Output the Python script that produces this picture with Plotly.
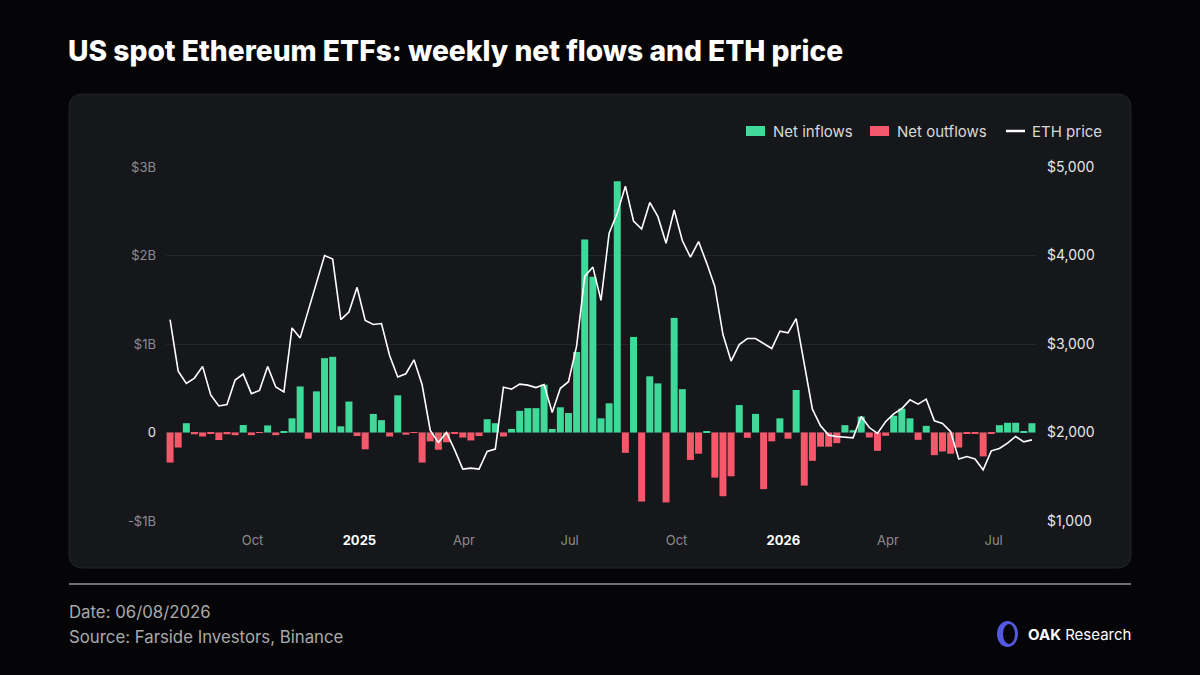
import pandas as pd
import plotly.graph_objects as go

# weekly buckets (week starting Monday), first full week of trading for the ETFs
week_start = pd.date_range("2024-07-22", periods=107, freq="7D")

# weekly net flows, $ billions
net_flows = [
    -0.34, -0.17, 0.105, -0.02, -0.045, -0.01, -0.085, -0.02, -0.03, 0.085,
    -0.03, -0.005, 0.08, -0.03, 0.015, 0.16, 0.52, -0.07, 0.465, 0.84,
    0.855, 0.07, 0.35, -0.04, -0.19, 0.21, 0.14, -0.045, 0.42, -0.025,
    -0.005, -0.34, -0.10, -0.195, -0.11, -0.01, -0.057, -0.09, -0.04, 0.15,
    0.105, -0.045, 0.04, 0.245, 0.275, 0.275, 0.54, 0.04, 0.285, 0.22,
    0.91, 2.18, 1.76, 0.16, 0.33, 2.84, -0.23, 1.08, -0.78, 0.635,
    0.555, -0.79, 1.295, 0.49, -0.31, -0.24, 0.015, -0.51, -0.72, -0.495,
    0.31, -0.06, 0.21, -0.64, -0.10, 0.16, -0.07, 0.48, -0.60, -0.32,
    -0.16, -0.16, -0.12, 0.083, 0.026, 0.18, -0.056, -0.207, -0.038, 0.19,
    0.27, 0.16, -0.083, 0.075, -0.256, -0.215, -0.24, -0.17, -0.01, -0.01,
    -0.27, -0.01, 0.083, 0.11, 0.11, 0.01, 0.105,
]

# ETH weekly close, USD
eth_price = [
    3276, 2694, 2555, 2615, 2747, 2424, 2300, 2315, 2593, 2660,
    2439, 2476, 2747, 2514, 2458, 3182, 3069, 3388, 3707, 4000,
    3959, 3276, 3362, 3640, 3265, 3220, 3231, 2871, 2627, 2664,
    2821, 2539, 2023, 1887, 2000, 1804, 1586, 1597, 1586, 1785,
    1812, 2512, 2490, 2546, 2535, 2508, 2542, 2226, 2499, 2574,
    2976, 3764, 3869, 3493, 4251, 4477, 4784, 4390, 4300, 4600,
    4439, 4139, 4514, 4169, 3981, 4158, 3914, 3651, 3107, 2807,
    2994, 3062, 3062, 3006, 2949, 3144, 3126, 3287, 2788, 2264,
    2075, 1970, 1955, 1944, 1940, 2181, 2056, 1989, 2121, 2211,
    2271, 2369, 2320, 2377, 2132, 2102, 2008, 1700, 1729, 1700,
    1578, 1793, 1819, 1880, 1955, 1894, 1917,
]

x_tick_dates = ["2024-10-01", "2025-01-01", "2025-04-01", "2025-07-01",
                "2025-10-01", "2026-01-01", "2026-04-01", "2026-07-01"]
x_tick_labels = ["Oct", "2025", "Apr", "Jul", "Oct", "2026", "Apr", "Jul"]
flow_ticks = [-1, 0, 1, 2, 3]
flow_tick_labels = ["-$1B", "0", "$1B", "$2B", "$3B"]
price_ticks = [1000, 2000, 3000, 4000, 5000]

GREEN = "#3fd99a"
RED = "#f5576b"
BG = "#050507"
PANEL = "#16171b"
MUTED = "#8b8c92"
FONT = "Inter"

# plot area in pixels (1200x675 canvas)
L, R, T, B = 166, 1036, 167, 521
W, H = R - L, B - T


def px(x):
    return (x - L) / W


def py(y):
    return (B - y) / H


inflows = [v if v > 0 else None for v in net_flows]
outflows = [v if v < 0 else None for v in net_flows]

fig = go.Figure()
fig.add_trace(go.Bar(x=week_start, y=inflows, name="Net inflows",
                     marker=dict(color=GREEN, line=dict(width=0))))
fig.add_trace(go.Bar(x=week_start, y=outflows, name="Net outflows",
                     marker=dict(color=RED, line=dict(width=0))))
fig.add_trace(go.Scatter(x=week_start, y=eth_price, name="ETH price", yaxis="y2",
                         mode="lines", line=dict(color="#ffffff", width=1.6)))

x_text = [f"<span style='color:#ffffff'><b>{t}</b></span>" if t.isdigit() else t
          for t in x_tick_labels]
y_text = [f"<span style='color:#e6e6e6'>{t}</span>" if t == "0" else t
          for t in flow_tick_labels]

x_start = week_start[0] - pd.Timedelta(days=3.5)
x_end = week_start[-1] + pd.Timedelta(days=3.5)

# rounded panel behind the chart
x0, y0, x1, y1, r = 69, 94, 1131, 568, 14
panel_path = (
    f"M {px(x0 + r)},{py(y0)} L {px(x1 - r)},{py(y0)} "
    f"Q {px(x1)},{py(y0)} {px(x1)},{py(y0 + r)} "
    f"L {px(x1)},{py(y1 - r)} Q {px(x1)},{py(y1)} {px(x1 - r)},{py(y1)} "
    f"L {px(x0 + r)},{py(y1)} Q {px(x0)},{py(y1)} {px(x0)},{py(y1 - r)} "
    f"L {px(x0)},{py(y0 + r)} Q {px(x0)},{py(y0)} {px(x0 + r)},{py(y0)} Z"
)

shapes = [
    dict(type="path", xref="paper", yref="paper", path=panel_path,
         fillcolor=PANEL, line=dict(color="#222329", width=1), layer="below"),
    # legend swatches
    dict(type="rect", xref="paper", yref="paper", x0=px(746), x1=px(765),
         y0=py(136), y1=py(126), fillcolor=GREEN, line=dict(width=0)),
    dict(type="rect", xref="paper", yref="paper", x0=px(870), x1=px(889),
         y0=py(136), y1=py(126), fillcolor=RED, line=dict(width=0)),
    dict(type="line", xref="paper", yref="paper", x0=px(1006), x1=px(1025),
         y0=py(131), y1=py(131), line=dict(color="#ffffff", width=2.5)),
    # footer rule
    dict(type="line", xref="paper", yref="paper", x0=px(69), x1=px(1131),
         y0=py(584), y1=py(584), line=dict(color="#707070", width=2)),
    # logo ring
    dict(type="circle", xref="paper", yref="paper", x0=px(997), x1=px(1018),
         y0=py(647), y1=py(621), fillcolor="#5558e3", line=dict(width=0)),
    dict(type="circle", xref="paper", yref="paper", x0=px(1003), x1=px(1015),
         y0=py(644), y1=py(624), fillcolor=BG, line=dict(width=0)),
]


def label(text, x, y, anchor="left", size=15, color="#d9d9d9"):
    return dict(text=text, x=px(x), y=py(y), xref="paper", yref="paper",
                xanchor=anchor, yanchor="middle", showarrow=False,
                font=dict(family=FONT, size=size, color=color))


annotations = [
    label("Net inflows", 771, 131),
    label("Net outflows", 895, 131),
    label("ETH price", 1030, 131),
    label("Date: 06/08/2026", 67, 612, size=16.8, color="#a9a9ab"),
    label("Source: Farside Investors, Binance", 67, 637, size=16.8, color="#a9a9ab"),
    label("<b>OAK</b> Research", 1133, 634, anchor="right", size=15, color="#ffffff"),
]

fig.update_layout(
    width=1200,
    height=675,
    margin=dict(l=L, r=1200 - R, t=T, b=675 - B, pad=0),
    paper_bgcolor=BG,
    plot_bgcolor="rgba(0,0,0,0)",
    font=dict(family=FONT, color=MUTED, size=13),
    title=dict(text="US spot Ethereum ETFs: weekly net flows and ETH price",
               x=68 / 1200, xref="container", xanchor="left",
               y=1 - 51 / 675, yref="container", yanchor="middle",
               font=dict(family=FONT, size=28.2, color="#ffffff", weight=800)),
    barmode="overlay",
    bargap=0.14,
    showlegend=False,
    hovermode=False,
    shapes=shapes,
    annotations=annotations,
    xaxis=dict(type="date", range=[x_start, x_end], tickvals=x_tick_dates,
               ticktext=x_text, showgrid=False, zeroline=False, showline=False,
               ticks="", ticklabelstandoff=10, tickfont=dict(size=13, color=MUTED)),
    yaxis=dict(range=[-1, 3], tickvals=flow_ticks, ticktext=y_text,
               showgrid=True, gridcolor="#25262c", gridwidth=1, zeroline=False,
               showline=False, ticks="", ticklabelstandoff=9,
               tickfont=dict(size=13, color=MUTED)),
    yaxis2=dict(range=[1000, 5000], overlaying="y", side="right",
                tickvals=price_ticks, tickformat="$,.0f", showgrid=False,
                zeroline=False, showline=False, ticks="", ticklabelstandoff=10,
                tickfont=dict(size=14, color="#e6e6e6")),
)

# the page body has a default 8px margin; drop it so the 1200x675 canvas fills the window
fig.write_html("out.html", config={"displayModeBar": False},
               post_script="document.body.style.margin='0';")
